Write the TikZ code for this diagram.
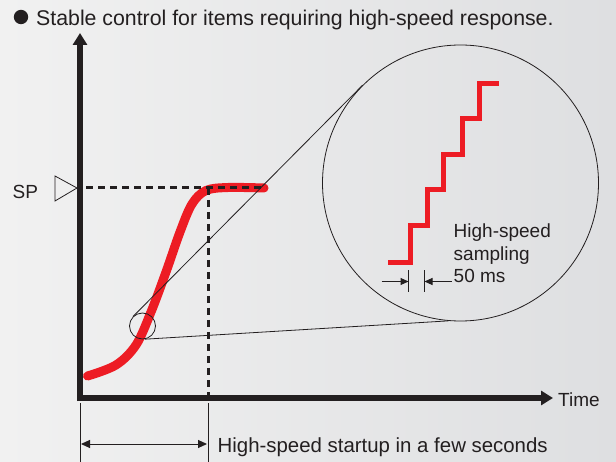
\documentclass[tikz,border=0pt]{standalone}
\usepackage{fontspec}
\setmainfont{Liberation Sans}
\usetikzlibrary{arrows.meta}
\definecolor{ink}{RGB}{35,31,32}
\definecolor{cred}{RGB}{237,28,36}
\definecolor{bgl}{RGB}{241,241,241}
\definecolor{bgr}{RGB}{222,223,225}
\tikzset{
  txt/.style={inner sep=0pt, text=ink, anchor=base west},
  axisline/.style={ink, line width=6pt, -{Triangle[length=12pt,width=14pt]}},
  guide/.style={ink, line width=3pt, dash pattern=on 7pt off 5pt},
  thinline/.style={ink, line width=0.8pt},
  dimarrow/.style={ink, line width=1pt, -{Triangle[length=8pt,width=7pt]}},
  redcurve/.style={cred, line width=9pt, line cap=round},
  redstair/.style={cred, line width=5pt, miter limit=10},
}
\begin{document}
\begin{tikzpicture}[x=1pt,y=-1pt, font=\fontsize{19}{22}\selectfont]
\useasboundingbox (0,0) rectangle (616,462);
\shade[left color=bgl, right color=bgr] (0,0) rectangle (616,462);

% title
\fill[ink] (21,17) circle (7.2);
\node[txt, font=\fontsize{21.3}{24}\selectfont] (title) at (36,25.5) {Stable control for items requiring high-speed response.};

% coordinates
\coordinate (origin) at (80,398);
\coordinate (ybot) at (80,401);
\coordinate (ytop) at (80,33);
\coordinate (xleft) at (77,398);
\coordinate (xright) at (553,398);
\coordinate (spL) at (86,188);
\coordinate (spR) at (266,188);
\coordinate (t1) at (208,188);
\coordinate (t1b) at (208,398);

% red response curve
\draw[redcurve] plot[smooth, tension=0.55] coordinates {(87.5,376) (116,365) (136,345) (151,312) (166,272) (180,232) (192,204) (206,190.5) (228,187.5) (264,188)};

% axes
\draw[axisline] (ybot) -- (ytop);
\draw[axisline] (xleft) -- (xright);
\node[txt] (time) at (558,406.5) {Time};

% SP
\node[txt] (sp) at (12.5,199) {SP};
\draw[thinline, line join=miter] (55,176) -- (77,188) -- (55,201) -- cycle;

% dashed guides
\draw[guide] (spL) -- (spR);
\draw[guide] (t1) -- (t1b);

% magnifier
\node[draw=ink, line width=0.8pt, circle, minimum size=26pt, inner sep=0pt] (small) at (142.5,326) {};
\node[draw=ink, line width=0.8pt, circle, minimum size=276pt, inner sep=0pt] (big) at (460.5,183) {};
\draw[thinline] (small.135) -- (big.135);
\draw[thinline] (small.-80) -- (big.-95);

% stair
\draw[redstair] (388,263) -- (410,263) -- (410,226) -- (427,226) -- (427,190) -- (443,190) -- (443,155) -- (462,155) -- (462,119) -- (479,119) -- (479,84) -- (499,84);

% sampling text
\node[txt] (hs) at (453.5,238) {High-speed};
\node[txt] (smp) at (453.5,260.5) {sampling};
\node[txt] (ms) at (453.5,283) {50 ms};

% sampling dimension
\coordinate (s1t) at (408.5,270.5);
\coordinate (s1b) at (408.5,292.5);
\coordinate (s2t) at (424.5,270.5);
\coordinate (s2b) at (424.5,292.5);
\coordinate (a1) at (381.5,281.5);
\coordinate (a2) at (451.5,281.5);
\draw[thinline] (s1t) -- (s1b);
\draw[thinline] (s2t) -- (s2b);
\draw[dimarrow] (a1) -- (s1t |- a1);
\draw[dimarrow] (a2) -- (s2t |- a2);

% startup dimension
\coordinate (d1t) at (80,403);
\coordinate (d1b) at (80,462);
\coordinate (d2t) at (208,403);
\coordinate (d2b) at (208,462);
\draw[thinline] (d1t) -- (d1b);
\draw[thinline] (d2t) -- (d2b);
\coordinate (e1) at (81,444);
\coordinate (e2) at (207,444);
\draw[ink, line width=1pt, {Triangle[length=9pt,width=8pt]}-{Triangle[length=9pt,width=8pt]}] (e1) -- (e2);
\node[txt, font=\fontsize{20.4}{24}\selectfont] (startup) at (217.5,452) {High-speed startup in a few seconds};
\end{tikzpicture}
\end{document}
